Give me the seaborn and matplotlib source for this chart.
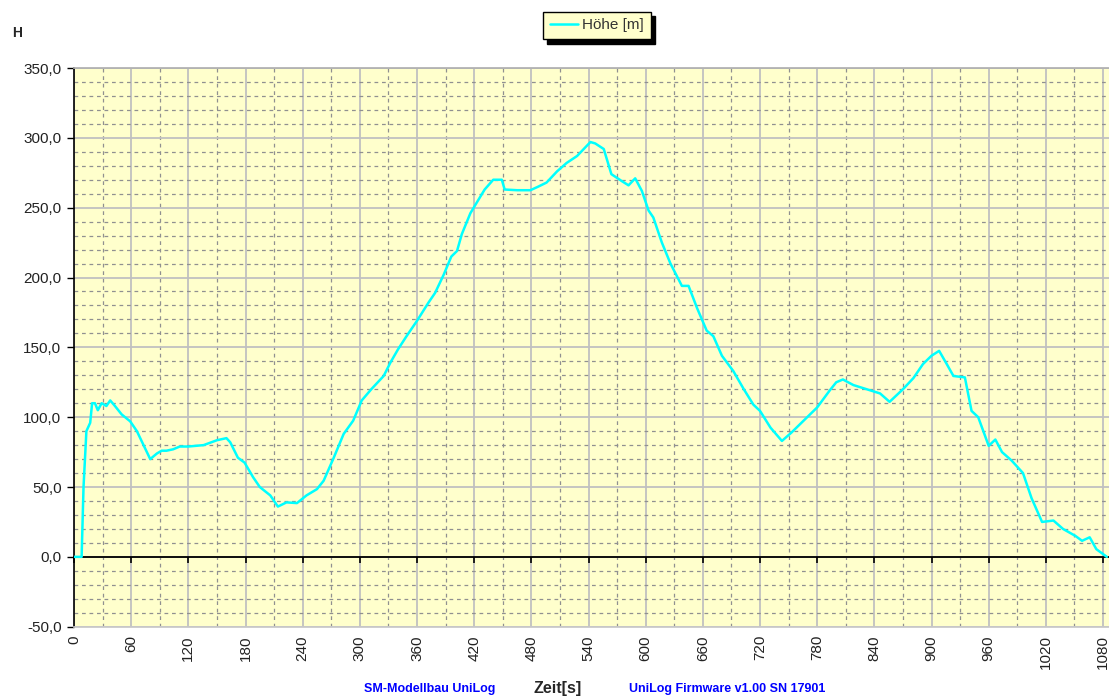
import matplotlib
matplotlib.use("Agg")
import matplotlib.pyplot as plt
import seaborn as sns
import numpy as np
import pandas as pd
from matplotlib.ticker import FuncFormatter, MultipleLocator

# ---- data ----
time_s = [0, 8, 10, 13, 17, 19, 22, 25, 29, 34, 38, 43, 50, 59, 66, 80, 87, 92, 97, 104,
          111, 120, 136, 150, 160, 164, 172, 179, 188, 195, 206, 214, 223, 234, 244, 255,
          262, 272, 283, 293, 302, 312, 325, 332, 340, 349, 360, 372, 379, 388, 396, 402,
          407, 416, 423, 431, 440, 449, 452, 465, 479, 487, 496, 507, 517, 528, 542, 547,
          556, 564, 575, 582, 589, 596, 603, 608, 617, 626, 638, 645, 654, 664, 671, 680,
          692, 703, 713, 720, 731, 743, 753, 765, 780, 793, 800, 807, 818, 832, 846, 856,
          870, 881, 891, 900, 908, 916, 923, 935, 942, 949, 960, 967, 974, 984, 996, 1005,
          1016, 1028, 1038, 1051, 1058, 1066, 1073, 1084]
hoehe_m = [0, 0, 50, 90, 96, 110, 110, 105, 110, 108, 112, 108, 102, 97, 90, 70, 74, 76, 76, 77,
           79, 79, 80, 83.5, 85, 82, 71, 67.5, 57, 50, 44, 36, 39, 38.5, 44, 48.5,
           54.5, 70, 88, 97.5, 112, 120, 129.5, 139, 148.5, 158, 169, 182, 189, 202, 215, 219,
           231, 246, 254, 263, 270, 270, 263, 262.5, 262.5, 265, 268, 276, 282, 287, 297, 296,
           292, 274, 269, 266, 271, 262, 248, 243, 225, 210, 194, 194, 178, 162, 158, 144,
           133, 120, 109, 104.5, 92.5, 83, 89, 97, 107, 119, 125, 127, 123, 120, 117, 111,
           120, 128, 138, 144, 147.5, 138, 129.5, 128.5, 104.5, 100, 79.5, 84, 75, 69, 60, 42,
           25, 26, 20, 15, 11.5, 14, 5.5, 0]
x_ticks = list(range(0, 1081, 60))
y_ticks = [-50, 0, 50, 100, 150, 200, 250, 300, 350]
series_label = "Höhe [m]"
y_label = "H"
x_label = "Zeit[s]"
footer_left = "SM-Modellbau UniLog"
footer_right = "UniLog Firmware v1.00 SN 17901"

df = pd.DataFrame({"t": time_s, "h": hoehe_m})

sns.set_theme(style="white")
plt.rcParams["font.family"] = ["Liberation Sans", "DejaVu Sans"]

fig = plt.figure(figsize=(11.09, 6.97), dpi=100)
ax = fig.add_axes([74 / 1109, 1 - 626.7 / 697, 1 - 74 / 1109, (626.7 - 68) / 697])
ax.set_facecolor("#FFFFCC")

sns.lineplot(data=df, x="t", y="h", ax=ax, color="#00FFFF", lw=2.3,
             label=series_label, legend=False, zorder=5)

ax.set_xlim(0, (1109 - 74) / 0.9528)
ax.set_ylim(-50, 350)

ax.set_xticks(x_ticks)
ax.set_yticks(y_ticks)
ax.xaxis.set_minor_locator(MultipleLocator(30))
ax.yaxis.set_minor_locator(MultipleLocator(10))

ax.grid(True, which="major", color="#C0C0C0", lw=1.3, ls="-", zorder=1)
ax.grid(True, which="minor", color="#909090", lw=0.9, ls=(0, (3, 3)), zorder=1)
ax.set_axisbelow(True)

ax.yaxis.set_major_formatter(FuncFormatter(lambda v, p: f"{v:.1f}".replace(".", ",")))
ax.tick_params(axis="y", which="major", direction="out", length=5, width=1, color="black",
               labelsize=11, labelcolor="#222222", left=True, pad=4)
ax.tick_params(axis="y", which="minor", left=False)
ax.tick_params(axis="x", which="both", bottom=False, length=0, labelsize=11,
               labelcolor="#222222", labelrotation=90, pad=6)
for lbl in ax.get_xticklabels():
    lbl.set_va("top")

ax.spines["left"].set_color("black")
ax.spines["left"].set_linewidth(1.2)
ax.spines["top"].set_color("#B0B0B0")
ax.spines["bottom"].set_color("#C8C8C8")
ax.spines["right"].set_visible(False)

# zero line with tick marks
sec = ax.secondary_xaxis(50 / 400)
sec.set_xticks(x_ticks)
sec.xaxis.set_ticks_position("bottom")
sec.tick_params(axis="x", direction="out", length=4, width=1.2, color="black",
                labelbottom=False, labeltop=False)
for side in ("bottom", "top"):
    sec.spines[side].set_color("black")
    sec.spines[side].set_linewidth(1.3)
sec.set_zorder(4)

ax.set_xlabel("")
ax.set_ylabel("")

fig.text(12 / 1109, 1 - 33 / 697, y_label, fontsize=10, fontweight="bold", va="center", ha="left")
fig.text(558 / 1109, 1 - 688 / 697, x_label, fontsize=11.5, fontweight="bold", va="center", ha="center")
fig.text(429.5 / 1109, 1 - 689 / 697, footer_left, fontsize=9, fontweight="bold",
         color="#0000FF", va="center", ha="center")
fig.text(727 / 1109, 1 - 689 / 697, footer_right, fontsize=9, fontweight="bold",
         color="#0000FF", va="center", ha="center")

handles, labels = ax.get_legend_handles_labels()
for h in handles:
    h.set_linewidth(1.8)
leg = fig.legend(handles, labels, loc="center", bbox_to_anchor=(597 / 1109, 1 - 25.5 / 697),
                 fontsize=11, frameon=True, fancybox=False,
                 shadow={"color": "black", "alpha": 1, "ox": 3, "oy": -3},
                 facecolor="#FFFFCC", edgecolor="black", handlelength=1.8, handletextpad=0.3,
                 borderpad=0.45, borderaxespad=0)
leg.get_frame().set_linewidth(1)
for txt in leg.get_texts():
    txt.set_color("#333333")

fig.savefig("out.png", dpi=100, facecolor="white")
